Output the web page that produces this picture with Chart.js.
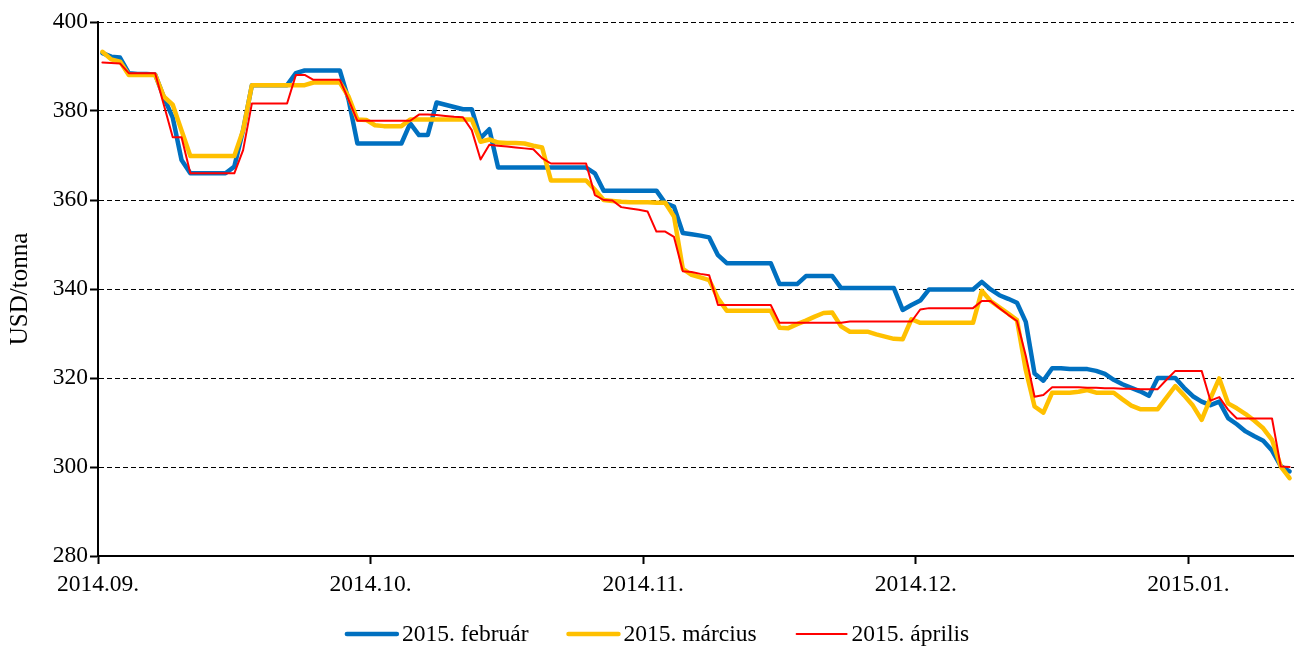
<!DOCTYPE html>
<html>
<head>
<meta charset="utf-8">
<script src="https://cdn.jsdelivr.net/npm/chart.js@4.4.1/dist/chart.umd.min.js"></script>
<style>
  html, body { margin: 0; padding: 0; background: #ffffff; }
  #wrap { width: 1294px; height: 647px; }
</style>
</head>
<body>
<div id="wrap"><canvas id="c" width="1294" height="647"></canvas></div>
<script>
// ---- data ----
const tickLabels = ['2014.09.', '2014.10.', '2014.11.', '2014.12.', '2015.01.'];
const categoriesPerLabel = 31;
const categoryCount = 136;
const seriesNames = ['2015. február', '2015. március', '2015. április'];

const febr = [
  393.0, 392.2, 392.0, 388.5, 388.3, 388.3, 388.2, 383.0, 378.5, 369.0,
  366.0, 366.0, 366.0, 366.0, 366.0, 367.5, 375.7, 385.8, 385.8, 385.8,
  385.8, 385.8, 388.5, 389.1, 389.1, 389.1, 389.1, 389.1, 382.5, 372.7,
  372.7, 372.7, 372.7, 372.7, 372.7, 377.2, 374.6, 374.6, 381.9, 381.4,
  380.9, 380.4, 380.4, 373.9, 375.9, 367.3, 367.3, 367.3, 367.3, 367.3,
  367.3, 367.3, 367.3, 367.3, 367.3, 367.3, 366.0, 362.1, 362.1, 362.1,
  362.1, 362.1, 362.1, 362.1, 359.3, 358.5, 352.6, 352.3, 352.0, 351.6,
  347.6, 345.8, 345.8, 345.8, 345.8, 345.8, 345.8, 341.1, 341.1, 341.1,
  342.9, 342.9, 342.9, 342.9, 340.2, 340.2, 340.2, 340.2, 340.2, 340.2,
  340.2, 335.3, 336.4, 337.4, 339.9, 339.9, 339.9, 339.9, 339.9, 339.9,
  341.6, 339.9, 338.6, 337.8, 336.9, 332.6, 321.0, 319.4, 322.2, 322.2,
  322.0, 322.0, 322.0, 321.6, 320.9, 319.6, 318.6, 317.8, 317.0, 316.0,
  320.0, 320.0, 320.0, 317.8, 315.9, 314.7, 313.9, 314.7, 311.0, 309.6,
  308.0, 306.9, 305.9, 303.7, 300.2, 299.0
];
const marc = [
  393.3, 391.6, 391.1, 388.1, 388.1, 388.1, 388.1, 383.2, 381.4, 375.6,
  369.9, 369.9, 369.9, 369.9, 369.9, 369.9, 375.7, 385.8, 385.8, 385.8,
  385.8, 385.8, 385.8, 385.8, 386.4, 386.4, 386.4, 386.4, 383.2, 378.1,
  378.0, 376.8, 376.6, 376.6, 376.6, 378.1, 378.1, 378.1, 378.1, 378.1,
  378.1, 378.1, 378.1, 373.1, 373.6, 372.9, 372.8, 372.8, 372.7, 372.2,
  371.8, 364.4, 364.4, 364.4, 364.4, 364.4, 362.3, 360.0, 359.8, 359.6,
  359.5, 359.5, 359.5, 359.4, 359.4, 356.3, 344.5, 343.2, 342.6, 342.0,
  337.9, 335.1, 335.1, 335.1, 335.1, 335.1, 335.1, 331.3, 331.2, 332.1,
  332.9, 333.8, 334.6, 334.7, 331.6, 330.4, 330.4, 330.4, 329.8, 329.3,
  328.8, 328.7, 333.2, 332.4, 332.4, 332.4, 332.4, 332.4, 332.4, 332.4,
  339.6, 337.3, 335.9, 334.5, 333.0, 321.8, 313.6, 312.2, 316.7, 316.7,
  316.7, 316.9, 317.3, 316.7, 316.7, 316.7, 315.2, 313.8, 313.0, 313.0,
  313.0, 315.6, 318.2, 316.1, 313.8, 310.6, 315.4, 319.9, 314.3, 313.2,
  311.9, 310.4, 308.7, 306.1, 300.1, 297.5
];
const apr = [
  390.9, 390.8, 390.7, 388.5, 388.5, 388.5, 388.5, 381.3, 374.1, 374.1,
  366.0, 366.0, 366.0, 366.0, 366.0, 366.0, 371.2, 381.7, 381.7, 381.7,
  381.7, 381.7, 388.1, 388.1, 387.0, 387.0, 387.0, 387.0, 382.5, 377.8,
  377.8, 377.8, 377.8, 377.8, 377.8, 377.8, 379.2, 379.2, 379.1, 378.9,
  378.7, 378.6, 375.7, 369.1, 372.4, 372.2, 372.0, 371.8, 371.6, 371.4,
  369.4, 368.2, 368.2, 368.2, 368.2, 368.2, 361.1, 360.0, 359.9, 358.4,
  358.1, 357.8, 357.4, 352.9, 352.9, 351.7, 344.0, 343.8, 343.4, 343.1,
  336.4, 336.4, 336.4, 336.4, 336.4, 336.4, 336.4, 332.4, 332.4, 332.4,
  332.4, 332.4, 332.4, 332.4, 332.4, 332.7, 332.7, 332.7, 332.7, 332.7,
  332.7, 332.7, 332.7, 335.4, 335.7, 335.7, 335.7, 335.7, 335.7, 335.7,
  337.3, 337.3, 335.7, 334.2, 332.8, 325.0, 315.8, 316.2, 317.9, 317.9,
  317.9, 317.9, 317.8, 317.8, 317.7, 317.7, 317.6, 317.6, 317.5, 317.5,
  317.5, 319.6, 321.6, 321.6, 321.6, 321.6, 314.9, 315.7, 312.9, 310.9,
  310.9, 310.9, 310.9, 310.9, 300.1, 300.0
];
const yMin = 280, yMax = 400, yStep = 20;

// ---- chart ----
const FONT = "'Liberation Serif', 'Times New Roman', serif";
const FONT_SIZE = 23.5;
const TITLE_SIZE = 25;

function toPoints(arr) { return arr.map((v, i) => ({ x: i + 0.5, y: v })); }

const legendPlugin = {
  id: 'bottomLegend',
  afterDraw(chart) {
    const ctx = chart.ctx;
    const ds = chart.data.datasets;
    ctx.save();
    ctx.font = FONT_SIZE + 'px ' + FONT;
    const sample = 54, gap = 3, between = 38;
    const widths = ds.map(d => sample + gap + ctx.measureText(d.label).width);
    const total = widths.reduce((a, b) => a + b, 0) + between * (ds.length - 1);
    let x = 657 - total / 2;
    const y = 634;
    ds.forEach((d, k) => {
      ctx.strokeStyle = d.borderColor;
      ctx.lineWidth = d.borderWidth;
      ctx.lineCap = 'round';
      ctx.beginPath();
      ctx.moveTo(x + 2, y);
      ctx.lineTo(x + sample - 2, y);
      ctx.stroke();
      ctx.fillStyle = '#000';
      ctx.textBaseline = 'middle';
      ctx.textAlign = 'left';
      ctx.fillText(d.label, x + sample + gap, y + 1);
      x += widths[k] + between;
    });
    ctx.restore();
  }
};

new Chart(document.getElementById('c'), {
  type: 'line',
  data: {
    datasets: [
      { label: seriesNames[0], data: toPoints(febr), borderColor: '#0070C0', borderWidth: 4.5, order: 3 },
      { label: seriesNames[1], data: toPoints(marc), borderColor: '#FFC000', borderWidth: 4.5, order: 2 },
      { label: seriesNames[2], data: toPoints(apr), borderColor: '#FF0000', borderWidth: 2, order: 1 }
    ]
  },
  options: {
    responsive: false,
    animation: false,
    devicePixelRatio: 1,
    elements: {
      point: { radius: 0, hoverRadius: 0 },
      line: { tension: 0, borderJoinStyle: 'round', borderCapStyle: 'round', fill: false }
    },
    layout: { padding: { top: 22, right: 0, bottom: 0, left: 0 } },
    plugins: { legend: { display: false }, tooltip: { enabled: false } },
    scales: {
      x: {
        type: 'linear',
        min: 0,
        max: categoryCount,
        afterBuildTicks(s) { s.ticks = tickLabels.map((_, k) => ({ value: k * categoriesPerLabel })); },
        afterFit(s) { s.height = 91; },
        ticks: {
          callback: (v) => tickLabels[Math.round(v / categoriesPerLabel)],
          font: { family: FONT, size: FONT_SIZE },
          color: '#000',
          padding: 7,
          maxRotation: 0,
          autoSkip: false
        },
        grid: { drawOnChartArea: false, drawTicks: true, tickLength: 8, tickColor: '#000', tickWidth: 2 },
        border: { display: true, color: '#000', width: 2 }
      },
      y: {
        min: yMin,
        max: yMax,
        afterFit(s) { s.width = 98; },
        ticks: {
          stepSize: yStep,
          font: { family: FONT, size: FONT_SIZE },
          color: '#000',
          padding: 2
        },
        title: {
          display: true,
          text: 'USD/tonna',
          font: { family: FONT, size: TITLE_SIZE },
          color: '#000',
          padding: { top: 5, bottom: 0 }
        },
        grid: {
          color: (c) => (c.tick && c.tick.value === yMin) ? 'rgba(0,0,0,0)' : '#000',
          lineWidth: 1,
          drawTicks: true,
          tickLength: 8,
          tickColor: '#000',
          tickWidth: 2
        },
        border: { display: true, color: '#000', width: 2, dash: [5, 3] }
      }
    }
  },
  plugins: [legendPlugin]
});
</script>
</body>
</html>
